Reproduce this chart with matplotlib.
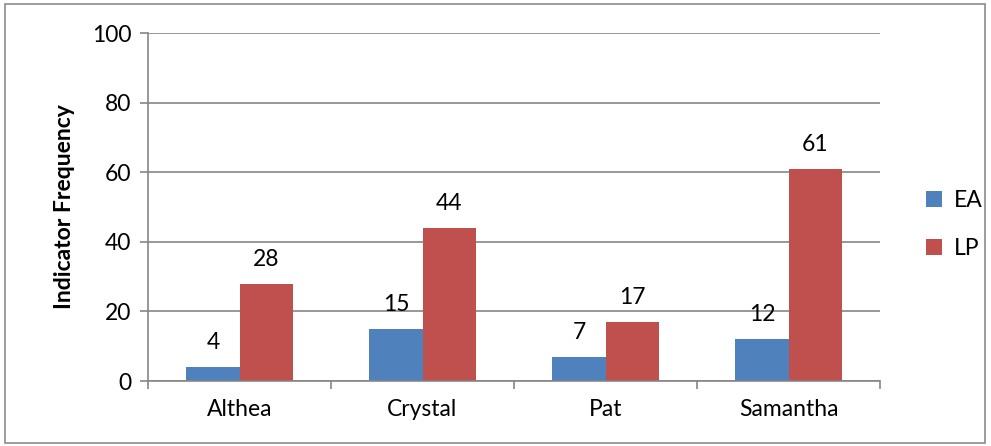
import numpy as np
from matplotlib import pyplot as plt
from matplotlib.patches import Rectangle

names = ["Althea", "Crystal", "Pat", "Samantha"]
ea = [4, 15, 7, 12]
lp = [28, 44, 17, 61]
yticks = [0, 20, 40, 60, 80, 100]

plt.rcParams['font.family'] = ['Lato', 'DejaVu Sans']
fs = 16.5

fig = plt.figure(figsize=(9.91, 4.46), dpi=100)
ax = fig.add_axes([148/991, 65/446, 732/991, 348/446])

# outer frame
fig.patches.append(Rectangle((5/991, 3/446), 980/991, 439/446, transform=fig.transFigure,
                             fill=False, edgecolor='#8c8c8c', linewidth=1.2))

x = np.arange(len(names))
w = 0.29
b1 = ax.bar(x - w/2, ea, w, color='#4F81BD', label='EA')
b2 = ax.bar(x + w/2, lp, w, color='#C0504D', label='LP')

for bars, vals in [(b1, ea), (b2, lp)]:
    for r, v in zip(bars, vals):
        ax.text(r.get_x() + r.get_width()/2, v + 4, str(v), ha='center', va='bottom', fontsize=fs)

ax.set_xlim(-0.5, len(names) - 0.5)
ax.set_ylim(0, 100)
ax.set_yticks(yticks)
ax.tick_params(axis='y', labelsize=fs, length=6, color='#868686', width=1.2, pad=6)
ax.set_xticks(x)
ax.set_xticklabels(names, fontsize=fs)
ax.set_xticks(np.arange(len(names) + 1) - 0.5, minor=True)
ax.tick_params(axis='x', which='major', length=0, pad=13)
ax.tick_params(axis='x', which='minor', length=6, color='#868686', width=1.2)

ax.grid(axis='y', color='#868686', linewidth=1.2)
ax.set_axisbelow(True)
for s in ['top', 'right']:
    ax.spines[s].set_visible(False)
for s in ['left', 'bottom']:
    ax.spines[s].set_color('#868686')
    ax.spines[s].set_linewidth(1.2)

ax.set_ylabel('Indicator Frequency', fontsize=fs, fontweight='bold', labelpad=12)

ax.legend(loc='center left', bbox_to_anchor=(1.035, 0.45), frameon=False, fontsize=fs,
          handlelength=0.7, handleheight=0.7, handletextpad=0.5, labelspacing=1.2)

fig.savefig('out.png', dpi=100)
